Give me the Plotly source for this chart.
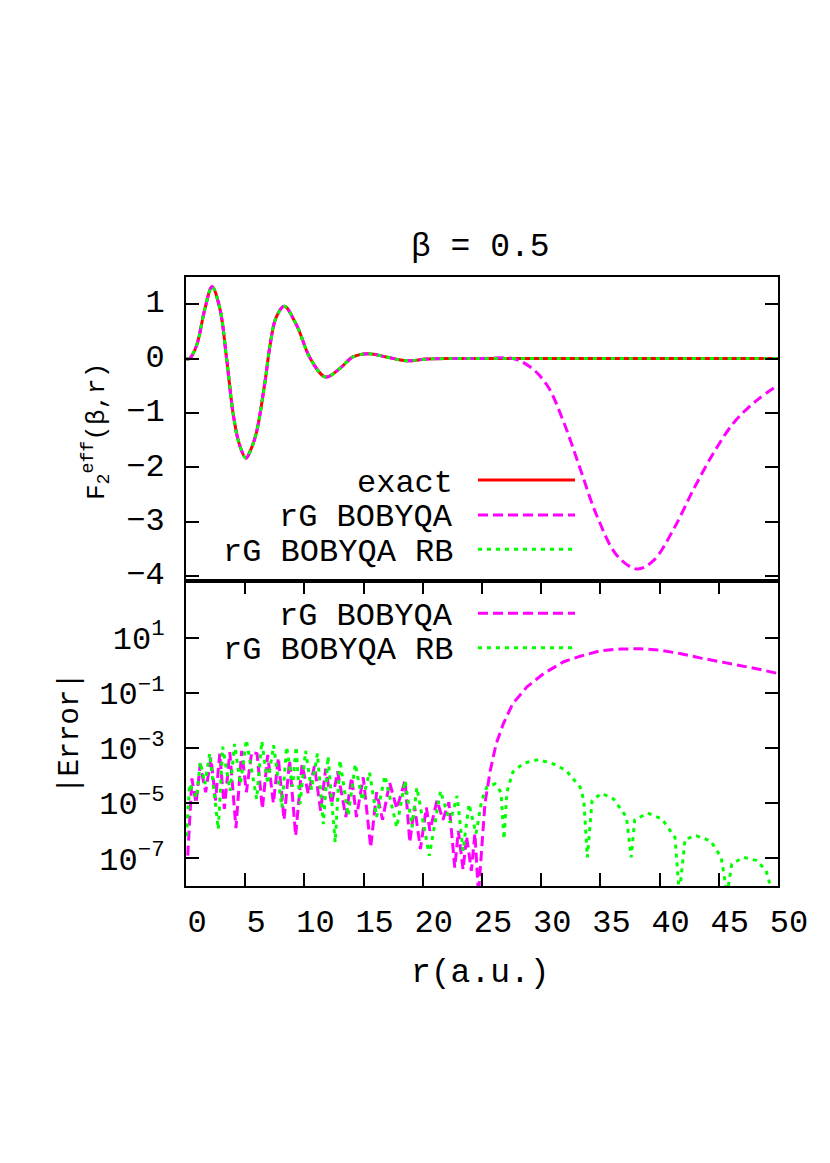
import plotly.graph_objects as go

# ---------------- data ----------------
# top panel: F_2^eff(beta, r)
r_exact = [0, 0.3, 0.9, 1.6, 2.2, 2.86, 3.43, 4.0, 4.5, 5.07, 5.5, 5.96, 6.67, 7.1, 7.6,
           8.3, 9.35, 10.5, 11.8, 13.0, 14.1, 15.4, 16.9, 18.6, 20.3, 22.0, 25.0, 30.0,
           35.0, 40.0, 45.0, 50.0]
f_exact = [0, 0.0, 0.245, 0.92, 1.32, 0.92, 0.0, -1.04, -1.57, -1.83, -1.66, -1.35, -0.43,
           0.245, 0.75, 0.96, 0.61, 0.0, -0.34, -0.18, 0.03, 0.09, 0.03, -0.04, -0.01, 0.0,
           0.0, 0.0, 0.0, 0.0, 0.0, 0.0]

r_bob = [0, 0.3, 0.9, 1.6, 2.2, 2.86, 3.43, 4.0, 4.5, 5.07, 5.5, 5.96, 6.67, 7.1, 7.6,
         8.3, 9.35, 10.5, 11.8, 13.0, 14.1, 15.4, 16.9, 18.6, 20.3, 22.0, 25.0, 27.6,
         29.05, 30.5, 31.9, 33.3, 34.7, 36.4, 38.1, 39.5, 41.2, 42.9, 44.6, 46.3, 48.2, 50.0]
f_bob = [0, 0.0, 0.245, 0.92, 1.32, 0.92, 0.0, -1.04, -1.57, -1.83, -1.66, -1.35, -0.43,
         0.245, 0.75, 0.96, 0.61, 0.0, -0.34, -0.18, 0.03, 0.09, 0.03, -0.04, -0.01, 0.0,
         0.0, 0.0, -0.15, -0.49, -1.17, -2.03, -2.89, -3.62, -3.87, -3.71, -3.13, -2.39,
         -1.72, -1.17, -0.77, -0.49]

r_rb = r_exact
f_rb = f_exact

# bottom panel: |Error| given as log10 exponents
r_err_bob = [0.15, 0.5, 0.85, 1.2, 1.66, 2.1, 2.5, 2.85, 3.24, 3.7, 4.22, 4.7, 5.1, 5.55,
             6.0, 6.45, 6.9, 7.38, 7.8, 8.28, 8.75, 9.26, 9.8, 10.33, 10.85, 11.37, 11.8,
             12.3, 12.8, 13.5, 13.99, 14.4, 14.97, 15.6, 16.1, 16.6, 17.2, 17.8, 18.5,
             18.9, 19.3, 19.8, 20.3, 20.6, 21.2, 21.7, 22.2, 22.7, 23.0, 23.4, 23.7, 24.1,
             24.4, 24.7, 25.25, 25.7, 26.2, 26.8, 27.6, 28.8, 30.2, 31.9, 33.3, 35.0, 36.7,
             38.3, 40.0, 41.7, 43.4, 45.1, 46.8, 48.5, 50.0]
e_err_bob = [-6.9, -4.1, -5.0, -3.6, -4.6, -3.35, -4.9, -3.2, -5.2, -3.15, -5.9, -3.1, -4.6,
             -3.15, -3.2, -5.2, -3.25, -5.0, -3.35, -5.6, -3.45, -6.18, -3.6, -4.67, -3.65,
             -5.27, -3.75, -5.03, -3.85, -5.5, -4.06, -5.5, -4.06, -6.6, -4.6, -5.6, -4.25,
             -5.2, -4.18, -6.42, -5.1, -6.66, -5.15, -6.0, -4.9, -5.6, -4.96, -7.33, -6.0,
             -7.4, -6.2, -7.45, -6.1, -8.3, -5.0, -3.81, -2.84, -2.12, -1.39, -0.78, -0.30,
             0.13, 0.33, 0.53, 0.59, 0.60, 0.55, 0.43, 0.27, 0.13, 0.0, -0.15, -0.30]

r_err_rb = [0.05, 0.3, 0.9, 1.2, 1.6, 2.0, 2.73, 3.1, 3.72, 4.1, 4.6, 5.1, 5.97, 6.4, 6.9,
            7.4, 8.1, 8.5, 9.0, 9.3, 9.63, 10.1, 10.6, 11.1, 11.6, 12.0, 12.6, 13.0, 13.7,
            14.3, 14.9, 15.5, 16.1, 16.8, 17.8, 18.5, 19.1, 19.5, 20.55, 21.5, 22.3, 22.9,
            23.4, 23.9, 24.5, 24.97, 25.4, 26.1, 26.6, 26.86, 27.1, 27.6, 28.5, 29.75, 31.0,
            32.1, 33.3, 33.6, 33.9, 34.3, 35.1, 36.1, 37.2, 37.6, 37.9, 39.0, 40.2, 41.3,
            41.67, 42.15, 43.1, 44.3, 45.2, 45.7, 46.1, 47.1, 48.2, 49.0, 49.55]
e_err_rb = [-6.2, -4.3, -4.8, -3.5, -4.3, -3.2, -5.94, -2.95, -4.55, -2.85, -4.3, -2.7,
            -4.85, -2.75, -4.3, -2.9, -5.15, -2.95, -4.4, -2.95, -5.03, -3.1, -4.5, -3.2,
            -5.76, -3.3, -6.42, -3.44, -5.45, -3.58, -4.9, -3.88, -5.5, -4.0, -5.87, -4.18,
            -5.87, -4.43, -6.9, -4.55, -5.7, -4.73, -6.72, -5.03, -6.1, -4.9, -4.42, -4.3,
            -4.6, -6.3, -4.6, -3.87, -3.55, -3.42, -3.57, -3.81, -4.42, -4.9, -6.96, -4.9,
            -4.64, -4.84, -5.5, -6.96, -5.6, -5.36, -5.57, -6.24, -8.3, -6.3, -6.18, -6.36,
            -6.96, -8.3, -7.2, -6.96, -7.08, -7.45, -8.3]

x_ticks = [0, 5, 10, 15, 20, 25, 30, 35, 40, 45, 50]
y_top_ticks = [1, 0, -1, -2, -3, -4]
y_bot_exp = [1, -1, -3, -5, -7]

legend_top = ["exact", "rG BOBYQA", "rG BOBYQA RB"]
legend_bot = ["rG BOBYQA", "rG BOBYQA RB"]

# ---------------- styles ----------------
FONT = "Liberation Mono"
RED, MAG, GRN = "#ff0000", "#ff00ff", "#00ff00"
DASH_MAG = "10px,5px"
DASH_GRN = "4px,5px"
LW = 3

err_bob = [10 ** e for e in e_err_bob]
err_rb = [10 ** e for e in e_err_rb]

fig = go.Figure()
fig.add_trace(go.Scatter(x=r_exact, y=f_exact, mode="lines", xaxis="x2", yaxis="y2",
                         line=dict(color=RED, width=LW, shape="spline"), showlegend=False))
fig.add_trace(go.Scatter(x=r_bob, y=f_bob, mode="lines", xaxis="x2", yaxis="y2",
                         line=dict(color=MAG, width=LW, dash=DASH_MAG, shape="spline"),
                         showlegend=False))
fig.add_trace(go.Scatter(x=r_rb, y=f_rb, mode="lines", xaxis="x2", yaxis="y2",
                         line=dict(color=GRN, width=LW, dash=DASH_GRN, shape="spline"),
                         showlegend=False))
fig.add_trace(go.Scatter(x=r_err_bob, y=err_bob, mode="lines", xaxis="x", yaxis="y",
                         line=dict(color=MAG, width=LW, dash=DASH_MAG), showlegend=False))
fig.add_trace(go.Scatter(x=r_err_rb, y=err_rb, mode="lines", xaxis="x", yaxis="y",
                         line=dict(color=GRN, width=LW, dash=DASH_GRN), showlegend=False))

split = 305 / 609
axis_common = dict(showline=True, linecolor="black", linewidth=2, showgrid=False,
                   zeroline=False, tickcolor="black", tickwidth=2, ticklen=13,
                   automargin=False,
                   tickfont=dict(family=FONT, size=32, color="black"))

# the page body adds an 8px offset, so the margins are shifted by 8px
fig.update_layout(
    width=830, height=1163,
    paper_bgcolor="white", plot_bgcolor="white",
    margin=dict(l=178, r=60, t=269, b=285),
    xaxis=dict(domain=[0, 1], anchor="y", range=[0, 50], tickmode="array",
               tickvals=x_ticks, ticktext=[str(v) for v in x_ticks], ticks="inside",
               mirror="ticks", ticklabelshift=11, ticklabelstandoff=6, **axis_common),
    xaxis2=dict(domain=[0, 1], anchor="y2", range=[0, 50], matches="x",
                showticklabels=False, ticks="", mirror=True, **axis_common),
    yaxis=dict(domain=[0, split], anchor="x", type="log", range=[-8.0, 3.056],
               tickmode="array", tickvals=[10 ** e for e in y_bot_exp],
               ticktext=["10<sup>" + str(e).replace("-", "\u2212") + "</sup>" for e in y_bot_exp],
               ticks="inside", mirror="ticks", ticklabelstandoff=13, **axis_common),
    yaxis2=dict(domain=[split, 1], anchor="x2", range=[-4.09, 1.5], tickmode="array",
                tickvals=y_top_ticks,
                ticktext=[str(v).replace("-", "\u2212") for v in y_top_ticks],
                ticks="inside", mirror="ticks", ticklabelstandoff=13, ticklabelshift=-3,
                **axis_common),
)

def px_x(p):
    return (p - 186) / 592

def px_y(p):
    return (886 - p) / 609

annotations = [
    dict(text="\u03b2 = 0.5", x=px_x(480), y=px_y(247), font=dict(size=33)),
    dict(text="r(a.u.)", x=px_x(480), y=px_y(973), font=dict(size=33)),
    dict(text="F<sub>2</sub><sup>eff</sup>(\u03b2,r)", x=px_x(96), y=px_y(432),
         textangle=-90, font=dict(size=26)),
    dict(text="|Error|", x=px_x(70), y=px_y(733), textangle=-90, font=dict(size=29)),
]
for txt, yp in zip(legend_top, [483, 517.7, 552]):
    annotations.append(dict(text=txt, x=px_x(455), y=px_y(yp), xanchor="right",
                            font=dict(size=32)))
for txt, yp in zip(legend_bot, [616.7, 650]):
    annotations.append(dict(text=txt, x=px_x(455), y=px_y(yp), xanchor="right",
                            font=dict(size=32)))
for a in annotations:
    a.setdefault("xanchor", "center")
    a.update(xref="paper", yref="paper", yanchor="middle", showarrow=False)
    a["font"].update(family=FONT, color="black")
fig.update_layout(annotations=annotations)

shapes = []
for col, dash, yp in [(RED, "solid", 480), (MAG, DASH_MAG, 515), (GRN, DASH_GRN, 549.3),
                      (MAG, DASH_MAG, 613.3), (GRN, DASH_GRN, 647.7)]:
    shapes.append(dict(type="line", xref="paper", yref="paper", x0=px_x(478), x1=px_x(575),
                       y0=px_y(yp), y1=px_y(yp), line=dict(color=col, width=LW, dash=dash)))
fig.update_layout(shapes=shapes)

fig.write_html("out.html")
